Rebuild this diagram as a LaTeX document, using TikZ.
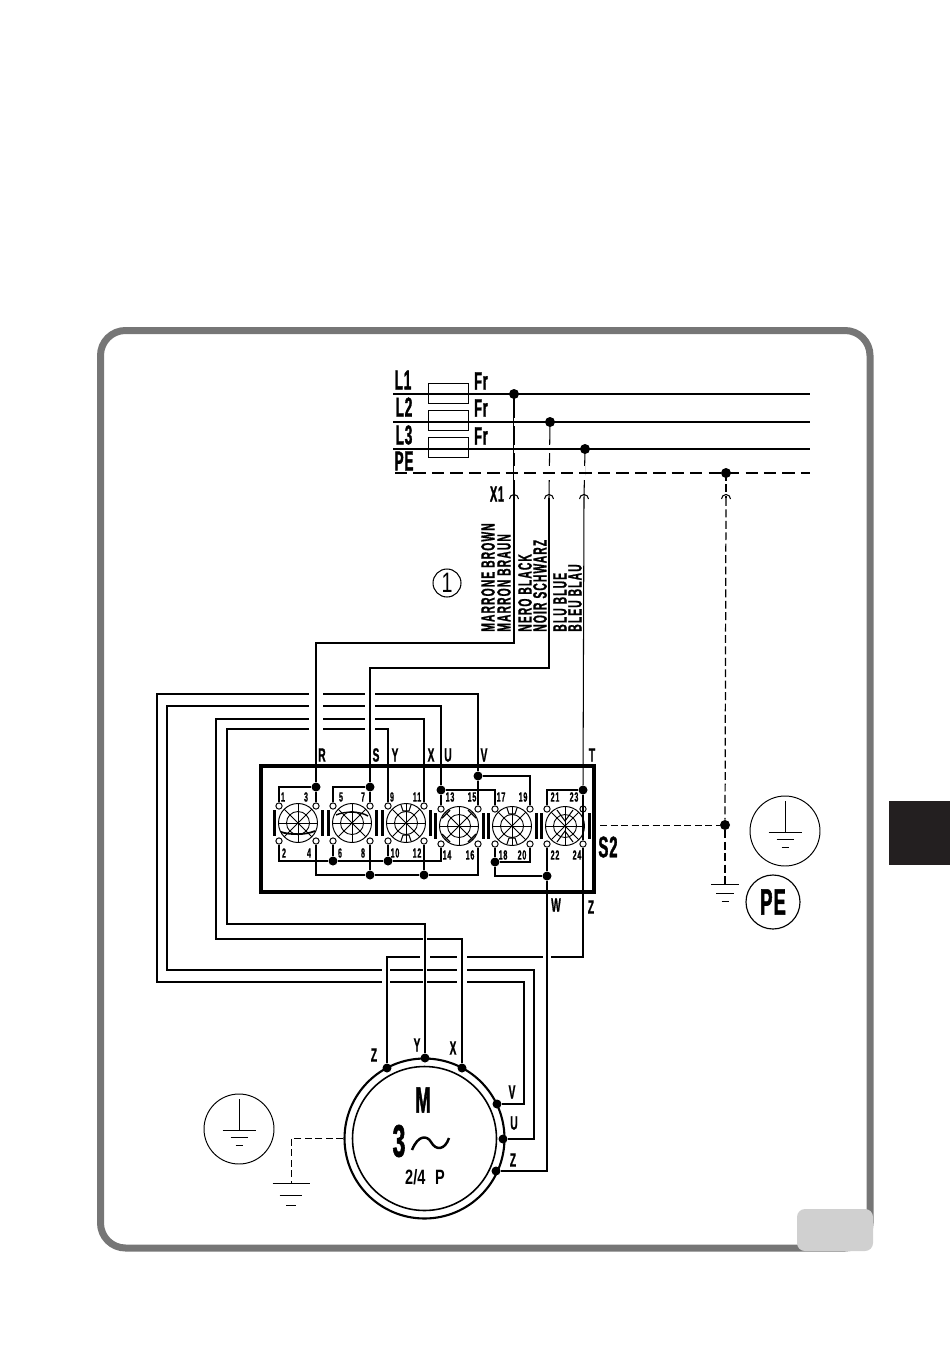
\documentclass[tikz,border=0pt]{standalone}
\usepackage{fontspec}
\newfontfamily\lblfont{Liberation Sans}[FakeStretch=0.53, FakeBold=0.8, LetterSpace=6]
\newfontfamily\bigfont{Liberation Sans}[FakeStretch=0.5, FakeBold=1.2, LetterSpace=3]
\newfontfamily\onefont{Liberation Sans}[FakeStretch=0.7]
\usetikzlibrary{calc}
\definecolor{framegray}{RGB}{118,118,118}
\definecolor{tabgray}{RGB}{208,208,208}
\definecolor{tabblack}{RGB}{35,31,32}
\begin{document}
\begin{tikzpicture}[x=0.02cm, y=-0.02cm,
  wire/.style={line width=0.6pt},
  thin wire/.style={line width=0.55pt},
  box/.style={draw, line width=0.55pt, minimum width=0.8cm, minimum height=0.4cm, inner sep=0},
  dot/.style={circle, fill=black, inner sep=0, minimum size=0.18cm},
  term/.style={circle, draw, fill=white, line width=0.55pt, inner sep=0, minimum size=0.125cm},
  pedash/.style={line width=0.7pt, dash pattern=on 4.5pt off 2pt},
  lbl/.style={font=\lblfont\bfseries\fontsize{11}{12}\selectfont, inner sep=0},
  big/.style={font=\bigfont\bfseries\fontsize{15.5}{18}\selectfont, inner sep=0},
  num/.style={font=\lblfont\bfseries\fontsize{7.6}{9}\selectfont, inner sep=0},
  col/.style={lbl, rotate=90, anchor=west}]
\useasboundingbox (0,0) rectangle (950,1348);
% frame and page tabs
\draw[framegray, line width=0.14cm, rounded corners=0.5cm] (100.5,330.5) rectangle (870,1248);
\fill[tabgray, rounded corners=0.16cm] (797,1209) rectangle (873,1251);
\fill[tabblack] (889,801) rectangle (950,865);
% supply
\coordinate (L1a) at (393,394); \coordinate (L1b) at (810,394);
\coordinate (L2a) at (393,422); \coordinate (L2b) at (810,422);
\coordinate (L3a) at (393,449); \coordinate (L3b) at (810,449);
\coordinate (PEa) at (395,473); \coordinate (PEb) at (810,473);
\coordinate (d1) at (514,394); \coordinate (d2) at (550,422);
\coordinate (d3) at (585,449); \coordinate (d4) at (726,473);
\coordinate (x1) at (514,498); \coordinate (x2) at (549,498);
\coordinate (x3) at (584,498); \coordinate (x4) at (726,498);
\draw[wire] (d1) -- (x1); \draw[wire] (d2) -- (x2); \draw[wire] (d3) -- (x3);
\draw[pedash] (d4) -- (x4);
\foreach \a/\b in {L2a/L2b, L3a/L3b}{\draw[white, line width=4pt] (\a-|d1) -- (\b-|d3); }
\draw[white, line width=8pt] (PEa-|d1) -- (PEb-|d3);
\foreach \a/\b in {L1a/L1b, L2a/L2b, L3a/L3b}{\draw[line width=0.75pt] (\a) -- (\b);}
\draw[line width=0.75pt, dash pattern=on 7pt off 3.5pt] (PEa) -- (PEb);
\foreach \n in {d1,d2,d3,d4}{\node[dot, minimum size=0.2cm] (p\n) at (\n) {};}
\foreach \i/\y/\f in {1/393/381, 2/420.5/408, 3/447.5/436}{
  \node[box] (fu\i) at (448,\y) {};
  \node[big, font=\bigfont\bfseries\fontsize{14.4}{16}\selectfont] (fr\i) at (481,\f) {Fr};
}
\node[big] (nL1) at (403,380) {L1};
\node[big] (nL2) at (404,407) {L2};
\node[big] (nL3) at (404,435) {L3};
\node[big] (nPE) at (404,461) {PE};
\node[lbl, font=\bigfont\bfseries\fontsize{12.5}{14}\selectfont] (nX1) at (497,494) {X1};
% plug marks
\foreach \n in {x1,x2,x3,x4}{\draw[wire] ($(\n)+(-4.5,1)$) arc[start angle=180, end angle=360, radius=4.5];}
\node[circle, draw, line width=0.6pt, minimum size=0.56cm, font=\onefont\fontsize{16}{18}\selectfont, inner sep=0] (one) at (447,583) {1};
\node[col] (c1) at (488,632) {MARRONE BROWN};
\node[col] (c2) at (504,632) {MARRON BRAUN};
\node[col] (c3) at (525,632) {NERO BLACK};
\node[col] (c4) at (540,632) {NOIR SCHWARZ};
\node[col] (c5) at (560,632) {BLU BLUE};
\node[col] (c6) at (575,632) {BLEU BLAU};
% switch S2
\draw[line width=1.75pt] (261,766) rectangle (594,892);
\node[big, font=\bigfont\bfseries\fontsize{17}{19}\selectfont] (s2) at (608,847) {S2};
\foreach \n/\cx/\cy/\xa/\xb/\ya/\yb in {a/298/823/279/316/806/841, b/352/823/333/370/806/841, c/406/823/388/424/806/841, d/459/826/441/478/809/844, e/512/826/495/530/809/844, f/565/826/547/583/809/844}{
  \draw[line width=0.55pt] (\cx,\cy) circle[radius=19.5];
  \draw[line width=0.5pt] (\cx,\cy) circle[radius=11.5];
  \draw[line width=0.5pt] (\cx-19.5,\cy) -- (\cx+19.5,\cy) (\cx,\cy-19.5) -- (\cx,\cy+19.5);
  \draw[line width=0.5pt] (\cx-13.8,\cy-13.8) -- (\cx+13.8,\cy+13.8) (\cx-13.8,\cy+13.8) -- (\cx+13.8,\cy-13.8);
  \fill (\cx-25.5,\cy-13) rectangle (\cx-22.5,\cy+13);
  \fill (\cx+22.5,\cy-13) rectangle (\cx+25.5,\cy+13);
  \node[term] (\n1) at (\xa,\ya) {};
  \node[term] (\n2) at (\xb,\ya) {};
  \node[term] (\n3) at (\xa,\yb) {};
  \node[term] (\n4) at (\xb,\yb) {};
}
\draw[line width=1pt] (281,832) .. controls (290,835) and (306,835) .. (315,831);
\draw[line width=0.8pt] (336,815) .. controls (345,811) and (360,811) .. (368,816);
\foreach \cx/\cy in {406/823, 512/826}{
  \draw[line width=0.6pt] (\cx-5,\cy-18) -- (\cx-3,\cy-12) -- (\cx+3,\cy-12) -- (\cx+5,\cy-18);
  \draw[line width=0.6pt] (\cx-5,\cy+18) -- (\cx-3,\cy+12) -- (\cx+3,\cy+12) -- (\cx+5,\cy+18);
}
\foreach \sx/\sy in {-1/-1, 1/-1, -1/1, 1/1}{
  \draw[line width=0.8pt] (459+\sx*9,826+\sy*16) -- (459+\sx*17,826+\sy*8);
}
\draw[line width=0.6pt] (565-8,826-16) -- (565,826-5) -- (565+8,826-16);
\draw[line width=0.6pt] (565-8,826+16) -- (565,826+5) -- (565+8,826+16);
\foreach \n/\x/\y in {1/283/797, 3/306/797, 5/341/797, 7/363/797, 9/392/797, 11/417/797, 13/450/797, 15/472/797, 17/501/797, 19/523/797, 21/555/797, 23/574/797, 2/284/853, 4/309/853, 6/340/853, 8/363/853, 10/395/853, 12/417/853, 14/447/855, 16/470/855, 18/503/855, 20/522/855, 22/555/855, 24/577/855}
  \node[num] (t\n) at (\x,\y) {\n};
% junctions
\node[dot] (jR) at (316,787) {};
\node[dot] (jS) at (370,787) {};
\node[dot] (jU) at (441,790) {};
\node[dot] (jV) at (478,776) {};
\node[dot] (jT) at (583,790) {};
\node[dot] (j6) at (333,861) {};
\node[dot] (j10) at (388,861) {};
\node[dot] (j8) at (370,875) {};
\node[dot] (j12) at (424,875) {};
\node[dot] (j18) at (495,862) {};
\node[dot] (jW) at (547,876) {};
\draw[wire] (a1) |- (jR) -- (a2);
\draw[wire] (b1) |- (jS) -- (b2);
\draw[wire] (a3) |- (j6) -- (b3);
\draw[wire] (j6) -- (j10) -- (c3);
\draw[wire] (j10) -| (d3);
\draw[wire] (a4) |- (j8) -- (b4);
\draw[wire] (j8) -- (j12) -- (c4);
\draw[wire] (j12) -| (d4);
\draw[wire] (jU) -- (d1);
\draw[wire] (jU) -| (e1);
\draw[wire] (jV) -- (d2);
\draw[wire] (jV) -| (e2);
\draw[wire] (e3) -- (j18) -| (e4);
\draw[wire] (j18) |- (jW);
\draw[wire] (f1) |- (jT) -- (f2);
\draw[wire] (f3) -- (jW);
\draw[wire] (jT) -- (f4);
% motor
\node[circle, draw, line width=1.2pt, minimum size=3.2cm, inner sep=0] (mot) at (424.5,1138.5) {};
\node[circle, draw, line width=0.9pt, minimum size=2.88cm, inner sep=0] (rot) at (424.5,1138.5) {};
\node[dot] (mZ) at (387,1068) {};
\node[dot] (mY) at (425,1058) {};
\node[dot] (mX) at (462,1068) {};
\node[dot] (mV) at (497,1104) {};
\node[dot] (mU) at (503,1139) {};
\node[dot] (mW) at (496,1171) {};
\node[big, font=\bigfont\bfseries\fontsize{21}{23}\selectfont] (nM) at (423,1100) {M};
\node[big, font=\bigfont\bfseries\fontsize{26}{28}\selectfont] (n3) at (399,1141) {3};
\draw[line width=1.4pt] (412,1150) .. controls (418,1135) and (427,1135) .. (431,1142) .. controls (436,1151) and (445,1150) .. (449,1138);
\node[lbl, font=\onefont\bfseries\fontsize{11.8}{13}\selectfont] (nP) at (425,1177) {2/4\hspace{5.5pt}P};
\node[lbl] (lZm) at (374,1055) {Z};
\node[lbl] (lYm) at (417,1045) {Y};
\node[lbl] (lXm) at (453,1048) {X};
\node[lbl] (lVm) at (512,1092) {V};
\node[lbl] (lUm) at (514,1123) {U};
\node[lbl] (lWm) at (513,1160) {Z};
% long wires, cut where they cross
\coordinate (cA) at (157,694); \coordinate (cB) at (167,706);
\coordinate (cC) at (216,719); \coordinate (cD) at (227,729);
\coordinate (lA) at (157,982); \coordinate (lB) at (167,970);
\coordinate (lC) at (216,939); \coordinate (lD) at (227,924);
\coordinate (eA) at (524,982); \coordinate (eB) at (534,970);
\draw[wire] (jV) |- (cA) -- (lA) -- (eA) |- (mV);
\draw[wire] (jU) |- (cB) -- (lB) -- (eB) |- (mU);
\draw[wire] (c2) |- (cC) -- (lC) -| (mX);
\draw[wire] (c1) |- (cD) -- (lD) -| (mY);
\draw[wire] (f4) -- (583,957) -| (mZ);
\draw[wire] (jW) -- (mW-|jW) -- (mW);
\foreach \x/\w in {316/15, 370/11}{\draw[white, line width=\w*0.567pt] (\x,690) -- (\x,733);}
\draw[white, line width=5pt] (386,966) -- (386,986);
\draw[white, line width=5.5pt] (462,953) -- (462,986);
\draw[white, line width=6pt] (425,953) -- (425,961);
\draw[white, line width=2.8pt] (425,966) -- (425,986);
\draw[white, line width=2.8pt] (425,935) -- (425,943);
\draw[white, line width=4.5pt] (547,953) -- (547,961);
\draw[wire] (mZ) -- (387,957);
\draw[wire] (mY) -- (425,924);
\draw[wire] (mX) -- (462,939);
\draw[wire] (jW) -- (547,1171);
\coordinate (in1) at (316,643); \coordinate (in2) at (370,668);
\draw[wire] (x1) -- (514,643) -- (in1) -- (jR);
\draw[wire] (x2) -- (549,668) -- (in2) -- (jS);
\draw[wire] (x3) -- (jT);
\foreach \n/\x/\y in {R/322/755, S/376/755, Y/395/755, X/431/755, U/448/755, V/484/755, T/592/755, W/556/905, Z/591/907}
  \node[lbl] (l\n) at (\x,\y) {\n};
% earth
\coordinate (g1) at (725,884); \coordinate (g2) at (291,1183);
\node[dot, minimum size=0.2cm] (dE) at (725,825) {};
\draw[pedash] (x4) -- (dE);
\draw[pedash] (dE) -- (g1);
\coordinate (s2e) at (600,825);
\draw[thin wire, dash pattern=on 4pt off 2pt] (s2e) -- (dE);
\draw[thin wire, dash pattern=on 4pt off 2pt] (mot.west) -| (g2);
\foreach \c/\s in {g1/14, g2/18.5}{
  \draw[line width=0.55pt] ($(\c)+(-\s,0)$) -- ($(\c)+(\s,0)$);
  \draw[line width=0.55pt] ($(\c)+(-\s*0.62,0.6*\s+1)$) -- ($(\c)+(\s*0.62,0.6*\s+1)$);
  \draw[line width=0.55pt] ($(\c)+(-\s*0.25,1.1*\s+2)$) -- ($(\c)+(\s*0.25,1.1*\s+2)$);
}
\foreach \n/\x/\y in {e1/785/831, e2/239/1129}{
  \node[circle, draw, line width=0.55pt, minimum size=1.4cm, inner sep=0] (\n) at (\x,\y) {};
  \draw[line width=0.55pt] (\x,\y-30) -- (\x,\y+1);
  \draw[line width=0.55pt] (\x-16.5,\y+1) -- (\x+16.5,\y+1);
  \draw[line width=0.55pt] (\x-8.5,\y+8.5) -- (\x+8.5,\y+8.5);
  \draw[line width=0.55pt] (\x-3.5,\y+16) -- (\x+3.5,\y+16);
}
\node[circle, draw, line width=0.65pt, minimum size=1.08cm, inner sep=0, font=\bigfont\bfseries\fontsize{21}{23}\selectfont] (pe) at (773,902) {PE};
\end{tikzpicture}
\end{document}
